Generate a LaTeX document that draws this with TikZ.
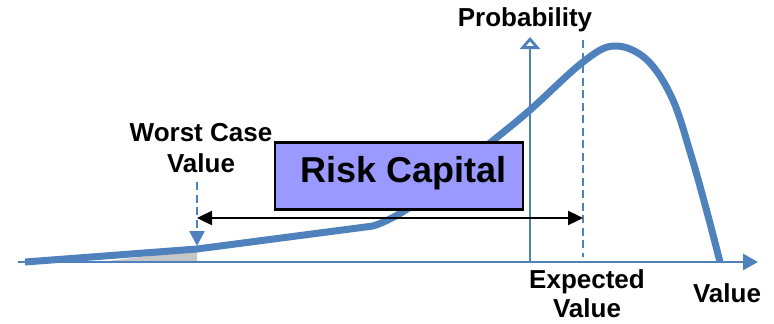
\documentclass[tikz,border=0pt]{standalone}
\usepackage{fontspec}
\setmainfont{Liberation Sans}
\usetikzlibrary{arrows.meta}
\definecolor{curveblue}{HTML}{4F81BD}
\definecolor{boxfill}{HTML}{9999FF}
\tikzset{
  lbl/.style={font=\bfseries\fontsize{26}{31}\selectfont, inner sep=0pt, align=center},
  axis/.style={curveblue, line width=2.8pt},
  guide/.style={curveblue, line width=2.4pt, dash pattern=on 8pt off 4.5pt}
}
\begin{document}
\begin{tikzpicture}[x=1pt, y=-1pt]
  \useasboundingbox (0,0) rectangle (774,324);
  % axes
  \coordinate (origin) at (18,262);
  \coordinate (xend) at (758,262);
  \coordinate (yfoot) at (530,262);
  \coordinate (ytop) at (530,37);
  \fill[gray!45] (100,262) -- (197,250) -- (197,262) -- cycle;
  \draw[axis, -{Triangle[length=15pt, width=16pt]}] (origin) -- (xend);
  \draw[axis, -{Triangle[open, length=12pt, width=20pt, fill=white]}] (yfoot) -- (ytop);
  % distribution
  \draw[curveblue, line width=7pt, line join=round]
    (25,262) -- (197,249) -- (373,226)
    plot[smooth, tension=0.6] coordinates {(373,226) (410,207) (490,143) (530,110) (583,62) (614,46) (646,59) (672,98) (691,155) (707,212) (720,262)};
  % markers
  \coordinate (wctop) at (197,182);
  \coordinate (wcfoot) at (197,246);
  \coordinate (evtop) at (583,40);
  \coordinate (evfoot) at (583,257);
  \draw[guide, -{Triangle[length=15pt, width=15pt]}] (wctop) -- (wcfoot);
  \draw[guide] (evtop) -- (evfoot);
  \coordinate (rcleft) at (197,218);
  \coordinate (rcright) at (583,218);
  \node[draw=black, line width=2.2pt, fill=boxfill, minimum width=248pt, minimum height=67pt] (risk) at (399,176) {};
  \node[anchor=base, inner sep=0pt, font=\bfseries\fontsize{36}{40}\selectfont] (risktext) at (404,182) {Risk Capital};
  \draw[black, line width=2.4pt, {Triangle[length=15pt, width=14pt]}-{Triangle[length=15pt, width=14pt]}] (rcleft) -- (rcright);
  % labels
  \node[lbl] (prob) at (525,20) {Probability};
  \node[lbl] (worst) at (201,148) {Worst Case\\Value};
  \node[lbl, font=\bfseries\fontsize{26}{29}\selectfont] (expected) at (587,294) {Expected\\Value};
  \node[lbl] (value) at (727,293) {Value};
\end{tikzpicture}
\end{document}
